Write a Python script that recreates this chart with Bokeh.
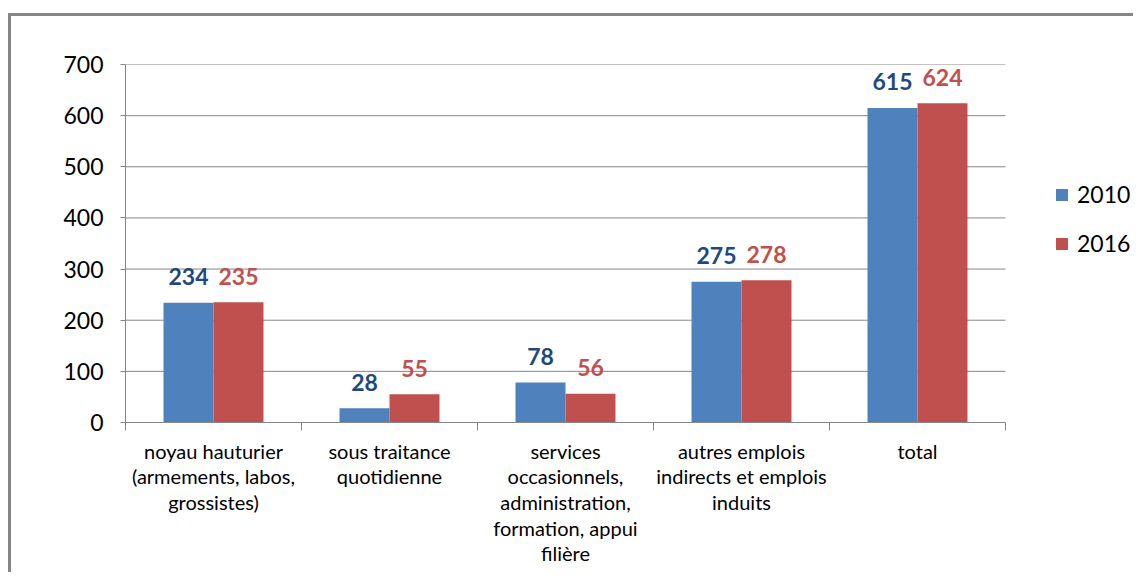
from bokeh.plotting import figure
from bokeh.models import (ColumnDataSource, FixedTicker, Range1d, Legend, LegendItem)
from bokeh.transform import dodge
from bokeh.core.properties import value
from bokeh.embed import file_html
from bokeh.resources import INLINE

categories = [
    "noyau hauturier\n(armements, labos,\ngrossistes)",
    "sous traitance\nquotidienne",
    "services\noccasionnels,\nadministration,\nformation, appui\nfilière",
    "autres emplois\nindirects et emplois\ninduits",
    "total",
]
series_names = ["2010", "2016"]
values_2010 = [234, 28, 78, 275, 615]
values_2016 = [235, 55, 56, 278, 624]
y_ticks = [0, 100, 200, 300, 400, 500, 600, 700]

BLUE = "#4F81BD"
RED = "#C0504D"
BLUE_TXT = "#1F497D"
AXIS = "#868686"
FONT = "Lato"

n = len(categories)
pos = [i + 0.5 for i in range(n)]
src = ColumnDataSource(dict(pos=pos, v2010=values_2010, v2016=values_2016,
                            t2010=[str(v) for v in values_2010],
                            t2016=[str(v) for v in values_2016]))

W, H = 1125, 559
LEFT, TOP, FRAME_BOTTOM, AXIS_W = 114, 48, 406, 880
x_end = n * (W - LEFT) / AXIS_W  # frame extends to the right edge (room for legend)

p = figure(width=W, height=H, output_backend="svg", toolbar_location=None,
           x_range=Range1d(0, x_end), y_range=Range1d(0, 700),
           min_border_left=LEFT, min_border_right=0, min_border_top=TOP,
           min_border_bottom=H - FRAME_BOTTOM)
p.styles = {"border-top": "3px solid #868686", "border-left": "3px solid #868686",
            "margin-top": "13px", "margin-left": "8px"}
p.outline_line_color = None
p.background_fill_color = "white"
p.border_fill_color = "white"
p.xgrid.grid_line_color = None
p.ygrid.grid_line_color = None

# horizontal gridlines limited to the category span
p.segment(x0=[0] * len(y_ticks), x1=[n] * len(y_ticks), y0=y_ticks, y1=y_ticks,
          line_color=AXIS, line_width=1)

bw = 0.284
r1 = p.vbar(x=dodge("pos", -bw / 2, range=p.x_range), top="v2010", width=bw,
            source=src, fill_color=BLUE, line_color=None)
r2 = p.vbar(x=dodge("pos", bw / 2, range=p.x_range), top="v2016", width=bw,
            source=src, fill_color=RED, line_color=None)

p.text(x=dodge("pos", -bw / 2, range=p.x_range), y="v2010", text="t2010", source=src,
       text_align="center", text_baseline="alphabetic", y_offset=-26,
       text_font=value(FONT), text_font_style="bold", text_font_size="23px",
       text_color=BLUE_TXT)
p.text(x=dodge("pos", bw / 2, range=p.x_range), y="v2016", text="t2016", source=src,
       text_align="center", text_baseline="alphabetic", y_offset=-26,
       text_font=value(FONT), text_font_style="bold", text_font_size="23px",
       text_color=RED)

# x axis
xa = p.xaxis[0]
xa.bounds = (0, n)
xa.ticker = FixedTicker(ticks=pos, minor_ticks=list(range(n + 1)))
xa.major_label_overrides = {pv: c for pv, c in zip(pos, categories)}
xa.major_tick_out = 0
xa.major_tick_in = 0
xa.minor_tick_out = 8
xa.minor_tick_in = 0
xa.minor_tick_line_color = AXIS
xa.axis_line_color = AXIS
xa.major_label_standoff = 8
xa.major_label_text_font = FONT
xa.major_label_text_font_size = "20px"
xa.major_label_text_color = "#000000"
xa.major_label_text_line_height = 1.07
xa.major_label_orientation = "horizontal"

ya = p.yaxis[0]
ya.ticker = FixedTicker(ticks=y_ticks)
ya.axis_line_color = AXIS
ya.major_tick_line_color = AXIS
ya.major_tick_out = 5
ya.major_tick_in = 0
ya.minor_tick_line_color = None
ya.major_label_standoff = 17
ya.major_label_text_font = FONT
ya.major_label_text_font_size = "23px"
ya.major_label_text_color = "#000000"

legend = Legend(items=[LegendItem(label=series_names[0], renderers=[r1]),
                       LegendItem(label=series_names[1], renderers=[r2])],
                location=(929, 165), orientation="vertical",
                glyph_width=15, glyph_height=15, label_standoff=8,
                label_height=20, spacing=21, padding=0, margin=0,
                border_line_color=None, background_fill_alpha=0,
                label_text_font=FONT, label_text_font_size="23px",
                label_text_color="#000000")
p.add_layout(legend, "center")

open("out.html", "w").write(file_html(p, INLINE))
